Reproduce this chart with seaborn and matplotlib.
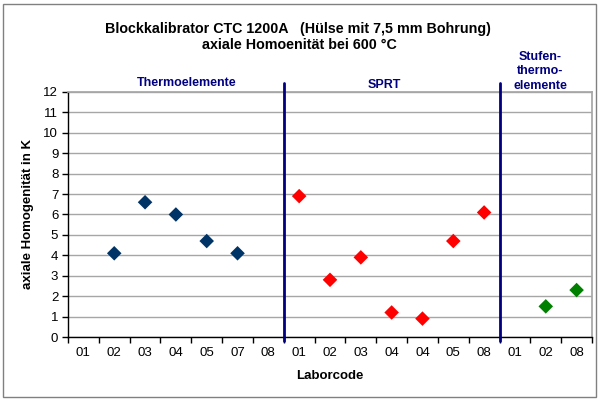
import matplotlib
matplotlib.use("Agg")
import matplotlib.pyplot as plt
import seaborn as sns
import pandas as pd
from matplotlib.patches import Rectangle

# Data
labels = ["01", "02", "03", "04", "05", "07", "08",
          "01", "02", "03", "04", "04", "05", "08",
          "01", "02", "08"]
thermo_pos = [1, 2, 3, 4, 5]
thermo_val = [4.1, 6.6, 6.0, 4.7, 4.1]
sprt_pos = [7, 8, 9, 10, 11, 12, 13]
sprt_val = [6.9, 2.8, 3.9, 1.2, 0.9, 4.7, 6.1]
stufen_pos = [15, 16]
stufen_val = [1.5, 2.3]
group_names = ["Thermoelemente", "SPRT", "Stufen-\nthermo-\nelemente"]
separators = [6.5, 13.5]

df = pd.DataFrame({
    "pos": thermo_pos + sprt_pos + stufen_pos,
    "val": thermo_val + sprt_val + stufen_val,
    "grp": ["T"] * len(thermo_pos) + ["S"] * len(sprt_pos) + ["U"] * len(stufen_pos),
})

sns.set_theme(style="white")
plt.rcParams["font.family"] = ["Liberation Sans", "DejaVu Sans"]
plt.rcParams["text.color"] = "black"
plt.rcParams["axes.labelcolor"] = "black"
plt.rcParams["xtick.color"] = "black"
plt.rcParams["ytick.color"] = "black"

fig = plt.figure(figsize=(5.99, 4.01), dpi=100)
ax = fig.add_axes([68/599, 1-337/401, (592-68)/599, (337-92)/401])

sns.scatterplot(data=df, x="pos", y="val", hue="grp", marker="D", s=55,
                palette={"T": "#003366", "S": "#FF0000", "U": "#008000"},
                edgecolor="none", legend=False, ax=ax, zorder=3)

ax.set_xlim(-0.5, len(labels) - 0.5)
ax.set_ylim(0, 12)
ax.set_yticks(range(0, 13))
ax.yaxis.grid(True, color="#A6A6A6", linewidth=1.0)
ax.set_axisbelow(True)

# ticks at category boundaries, labels at centers
ax.set_xticks([i - 0.5 for i in range(len(labels) + 1)])
ax.set_xticklabels([])
ax.set_xticks(range(len(labels)), minor=True)
ax.set_xticklabels(labels, minor=True)
ax.tick_params(axis="x", which="major", length=4, width=1, color="black", direction="out", bottom=True)
ax.tick_params(axis="x", which="minor", length=0, labelsize=9.5, pad=7, labelcolor="#000000")
ax.tick_params(axis="y", length=4, width=1, color="black", direction="out", left=True,
               labelsize=9.5, pad=3, labelcolor="#000000")

for side in ["top", "right"]:
    ax.spines[side].set_color("#A6A6A6")
for side in ["left", "bottom"]:
    ax.spines[side].set_color("black")
    ax.spines[side].set_linewidth(1.0)

for s in separators:
    ax.plot([s, s], [-0.2, 12.45], color="#000080", linewidth=2, clip_on=False, zorder=4)

ax.set_xlabel("Laborcode", fontsize=9.5, fontweight="bold", labelpad=8, color="black")
ax.set_ylabel("axiale Homogenität in K", fontsize=9.5, fontweight="bold", labelpad=7, color="black")

fig.text(298/599, 1-29/401, "Blockkalibrator CTC 1200A   (Hülse mit 7,5 mm Bohrung)",
         ha="center", va="center", fontsize=10.3, fontweight="bold", color="black")
fig.text(299/599, 1-45/401, "axiale Homoenität bei 600 °C",
         ha="center", va="center", fontsize=10.3, fontweight="bold", color="black")

fig.text(187/599, 1-83/401, group_names[0], ha="center", va="center",
         fontsize=9, fontweight="bold", color="#000080")
fig.text(384/599, 1-85/401, group_names[1], ha="center", va="center",
         fontsize=9, fontweight="bold", color="#000080")
fig.text(540/599, 1-71.5/401, group_names[2], ha="center", va="center",
         fontsize=9, fontweight="bold", color="#000080", linespacing=1.25)

fig.patches.append(Rectangle((3/599, 4/401), 593/599, 393/401, transform=fig.transFigure,
                             fill=False, edgecolor="#808080", linewidth=1))

fig.savefig("out.png", dpi=100)
